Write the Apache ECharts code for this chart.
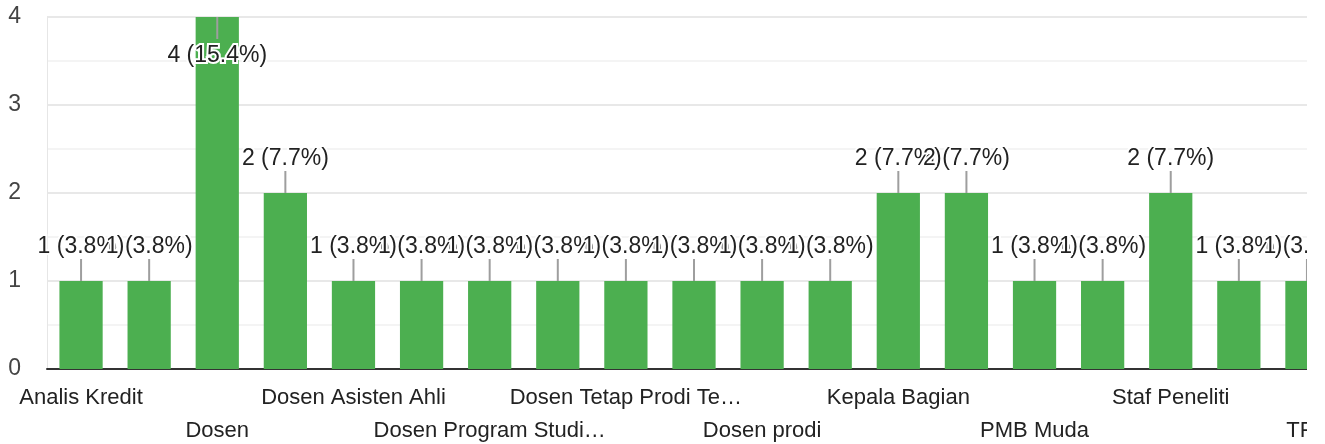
<!DOCTYPE html>
<html>
<head>
<meta charset="utf-8">
<script src="https://cdn.jsdelivr.net/npm/echarts@6/dist/echarts.min.js"></script>
<style>
  html, body { margin: 0; padding: 0; background: #fff; }
  .clip { width: 1307px; height: 444px; overflow: hidden; }
  #chart { width: 1360px; height: 444px; }
</style>
</head>
<body>
<div class="clip"><div id="chart"></div></div>
<script>
// jabatan responden (kategori), urut abjad
const categories = [
  'Analis Kredit', 'Asisten Dosen', 'Dosen', 'Dosen Asisten', 'Dosen Asisten Ahli',
  'Dosen Manajemen', 'Dosen Program Studi…', 'Dosen Tetap', 'Dosen Tetap Prodi Te…',
  'Dosen Tetap Yayasan', 'Dosen prodi', 'Guru', 'Kepala Bagian', 'Manajer',
  'PMB Muda', 'Peneliti', 'Staf Peneliti', 'Staf Pengajar', 'TPA'
]
const counts = [1, 1, 4, 2, 1, 1, 1, 1, 1, 1, 1, 1, 2, 2, 1, 1, 2, 1, 1]
const yTicks = [0, 1, 2, 3, 4]

const total = counts.reduce((s, v) => s + v, 0)
const fontFamily = '"Liberation Sans", Arial, sans-serif'

const chart = echarts.init(document.getElementById('chart'))

const option = {
  animation: false,
  backgroundColor: '#fff',
  grid: { left: 47, right: 19, top: 17, bottom: 75, outerBoundsMode: 'none', containLabel: false },
  xAxis: {
    type: 'category',
    data: categories,
    axisLine: { lineStyle: { color: '#333', width: 2 } },
    axisTick: { show: false },
    axisLabel: {
      interval: 1,
      margin: 12,
      fontSize: 22,
      lineHeight: 33,
      color: '#222',
      fontFamily,
      // label bergantian dua baris
      formatter: (v, i) => (i % 4 === 2 ? '\n' + v : v)
    }
  },
  yAxis: {
    type: 'value',
    min: yTicks[0],
    max: yTicks[yTicks.length - 1],
    interval: 1,
    axisLine: { show: true, lineStyle: { color: '#e6e6e6', width: 1 } },
    axisTick: { show: false },
    axisLabel: { fontSize: 23, color: '#444', margin: 26, fontFamily },
    splitLine: { lineStyle: { color: '#e8e8e8', width: 2 } },
    minorTick: { show: false, splitNumber: 2 },
    minorSplitLine: { show: true, lineStyle: { color: '#f4f4f4', width: 2 } }
  },
  series: [
    {
      type: 'bar',
      data: counts,
      barWidth: '63.5%',
      z: 2,
      itemStyle: { color: '#4caf50' }
    },
    {
      type: 'custom',
      z: 5,
      data: counts.map((v, i) => [i, v]),
      encode: { x: 0, y: 1 },
      renderItem: (params, api) => {
        const v = api.value(1)
        const p = api.coord([api.value(0), v])
        // kalau tidak muat di atas batang, label ditaruh di dalam batang
        const inside = p[1] - 50 < 0
        const dir = inside ? 1 : -1
        const pct = (v / total * 100).toFixed(1)
        return {
          type: 'group',
          children: [
            {
              type: 'line',
              shape: { x1: p[0], y1: p[1], x2: p[0], y2: p[1] + dir * 22 },
              style: { stroke: '#9e9e9e', lineWidth: 2 }
            },
            {
              type: 'text',
              x: p[0],
              y: p[1] + (inside ? 39 : -34),
              style: {
                text: v + ' (' + pct + '%)',
                fontSize: 23,
                fontFamily,
                fill: '#222',
                align: 'center',
                verticalAlign: 'middle',
                stroke: '#fff',
                lineWidth: 4
              }
            }
          ]
        }
      }
    }
  ]
}

chart.setOption(option)
</script>
</body>
</html>
